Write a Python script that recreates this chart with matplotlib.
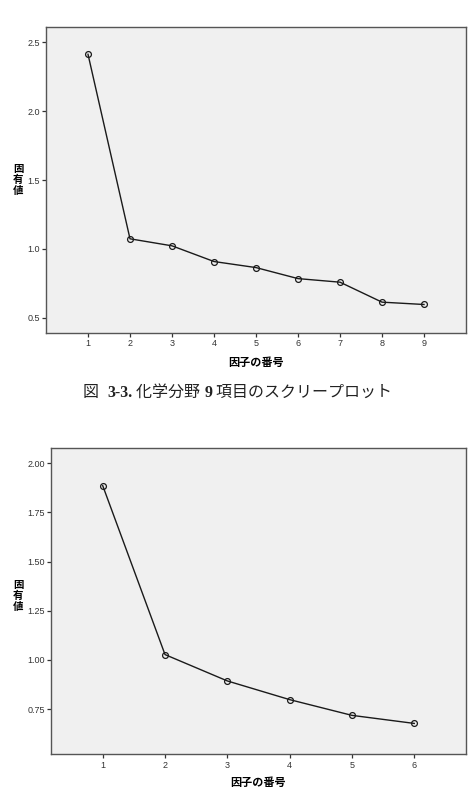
import matplotlib
matplotlib.use("Agg")
import matplotlib.pyplot as plt
from matplotlib.transforms import offset_copy

plt.rcParams['font.family'] = ['Noto Sans CJK JP', 'DejaVu Sans']

# scree plot data (eigenvalues)
factors_chem = [1, 2, 3, 4, 5, 6, 7, 8, 9]
eigen_chem = [2.413, 1.073, 1.022, 0.908, 0.864, 0.784, 0.758, 0.613, 0.596]
yticks_chem = [0.5, 1.0, 1.5, 2.0, 2.5]
ytick_labels_chem = ["0.5", "1.0", "1.5", "2.0", "2.5"]

factors_b = [1, 2, 3, 4, 5, 6]
eigen_b = [1.886, 1.027, 0.893, 0.798, 0.718, 0.677]
yticks_b = [0.75, 1.00, 1.25, 1.50, 1.75, 2.00]
ytick_labels_b = ["0.75", "1.00", "1.25", "1.50", "1.75", "2.00"]

xlabel = "因子の番号"
ylabel = "固\n有\n値"
# caption pieces, bold flag for the numbers
caption_parts = [("図  ", False), ("3-3.", True), (" 化学分野 ", False),
                 ("9", True), (" 項目のスクリープロット", False)]

W, H = 475, 799
fig = plt.figure(figsize=(W / 100, H / 100), dpi=100)
fig.patch.set_facecolor("white")
tick_font = ['Liberation Sans', 'DejaVu Sans']


def scree(rect, xs, ys, yt, ytl, xlim, ylim):
    ax = fig.add_axes(rect)
    ax.set_facecolor("#f0f0f0")
    ax.plot(xs, ys, color="#1a1a1a", linewidth=1.0, marker="o", markersize=4.2,
            markerfacecolor="none", markeredgecolor="#1a1a1a", markeredgewidth=0.9)
    ax.set_xlim(*xlim)
    ax.set_ylim(*ylim)
    ax.set_xticks(xs)
    ax.set_xticklabels([str(x) for x in xs], family=tick_font)
    ax.set_yticks(yt)
    ax.set_yticklabels(ytl, family=tick_font)
    for s in ax.spines.values():
        s.set_color("#555555")
        s.set_linewidth(1.0)
    ax.tick_params(direction="out", length=3, width=0.9, color="#333333",
                   labelsize=6.5, labelcolor="#333333", pad=1.5)
    return ax


# top chart: axes box at pixels x 46..466, y 27..333
ax1 = scree([46 / W, 1 - 333 / H, 420 / W, 306 / H], factors_chem, eigen_chem,
            yticks_chem, ytick_labels_chem, (0, 10), (0.389, 2.611))
fig.text(256 / W, 1 - 362 / H, xlabel, ha="center", va="center",
         fontsize=8, fontweight="bold")
fig.text(18 / W, 1 - 180 / H, ylabel, ha="center", va="center",
         fontsize=7.5, fontweight="bold", linespacing=1.05)

# caption written piece by piece so the numbers can be bold
renderer = fig.canvas.get_renderer()
x_px = 83.0
for txt, bold in caption_parts:
    t = fig.text(0, 1 - 393 / H, txt, ha="left", va="center", fontsize=11.5,
                 color="#222222", fontweight="bold" if bold else "normal",
                 family=['Liberation Serif', 'Noto Sans CJK JP'],
                 transform=offset_copy(fig.transFigure, fig=fig, x=x_px, y=0,
                                       units="dots"))
    x_px += t.get_window_extent(renderer).width

# bottom chart: axes box at pixels x 51..466, y 448..754
ax2 = scree([51 / W, 1 - 754.3 / H, 415 / W, 306 / H], factors_b, eigen_b,
            yticks_b, ytick_labels_b, (0.17, 6.83), (0.52, 2.076))
fig.text(258 / W, 1 - 782.5 / H, xlabel, ha="center", va="center",
         fontsize=8, fontweight="bold")
fig.text(18 / W, 1 - 596 / H, ylabel, ha="center", va="center",
         fontsize=7.5, fontweight="bold", linespacing=1.05)

fig.savefig("out.png", dpi=100)
